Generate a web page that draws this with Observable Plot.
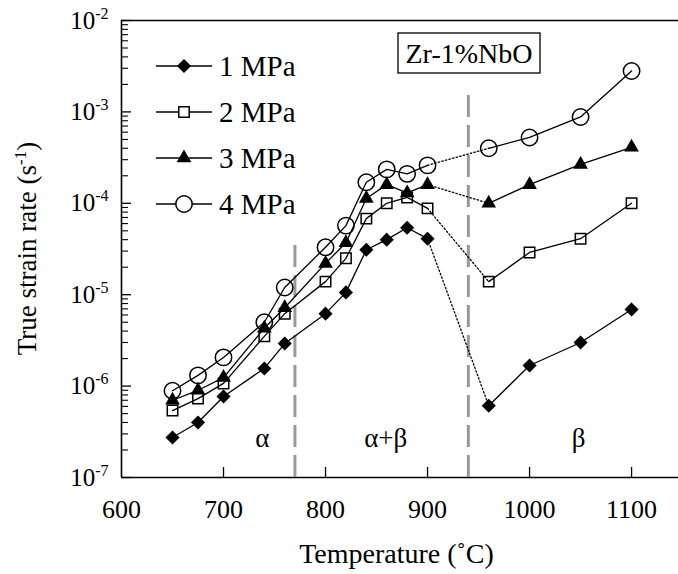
<!DOCTYPE html>
<html>
<head>
<meta charset="utf-8">
<script src="https://cdn.jsdelivr.net/npm/d3@7"></script>
<script src="https://cdn.jsdelivr.net/npm/@observablehq/plot@0.6"></script>
<style>
  html, body { margin: 0; padding: 0; background: #fff; }
  #chart { width: 678px; height: 574px; }
</style>
</head>
<body>
<div id="chart"></div>
<script>
// ---- data ----
const temps = [650, 675, 700, 740, 760, 800, 820, 840, 860, 880, 900, 960, 1000, 1050, 1100];
const rate1MPa = [2.74e-7, 4.0e-7, 7.7e-7, 1.56e-6, 2.92e-6, 6.2e-6, 1.06e-5, 3.1e-5, 4.0e-5, 5.4e-5, 4.1e-5, 6.1e-7, 1.68e-6, 3.0e-6, 6.9e-6];
const rate2MPa = [5.4e-7, 7.3e-7, 1.07e-6, 3.5e-6, 6.2e-6, 1.39e-5, 2.5e-5, 6.8e-5, 1.0e-4, 1.16e-4, 8.8e-5, 1.39e-5, 2.9e-5, 4.1e-5, 1.0e-4];
const rate3MPa = [7.0e-7, 9.0e-7, 1.24e-6, 4.3e-6, 7.2e-6, 2.2e-5, 3.7e-5, 1.13e-4, 1.6e-4, 1.3e-4, 1.6e-4, 1.0e-4, 1.6e-4, 2.66e-4, 4.1e-4];
const rate4MPa = [8.9e-7, 1.31e-6, 2.06e-6, 5.0e-6, 1.2e-5, 3.3e-5, 5.7e-5, 1.7e-4, 2.35e-4, 2.1e-4, 2.6e-4, 4.0e-4, 5.25e-4, 8.8e-4, 2.8e-3];
const seriesNames = ["1 MPa", "2 MPa", "3 MPa", "4 MPa"];
const seriesValues = [rate1MPa, rate2MPa, rate3MPa, rate4MPa];
const lastAlphaBetaTemp = 900;   // dotted connection between 900 and 960
const xTicks = [600, 700, 800, 900, 1000, 1100];
const yTicks = [1e-7, 1e-6, 1e-5, 1e-4, 1e-3, 1e-2];
const phaseBounds = [770, 940];
const phaseBoundTops = [4.0e-5, 1.6e-3];
const phaseLabels = ["α", "α+β", "β"];
const phaseLabelX = [738, 859, 1048];
const phaseLabelY = [2.67e-7, 2.67e-7, 2.67e-7];
const boxText = "Zr-1%NbO";
const xTitle = "Temperature (˚C)";
const yTitle = "True strain rate (s";
const yTitleSup = "-1";

// ---- styles ----
const symbols = ["diamond2", "square", "triangle", "circle"];
const fills = ["black", "none", "black", "none"];
const radii = [5.4, 5.9, 4.5, 8.2];
const W = 678, H = 574;
const mL = 121, mR = 0, mT = 20, mB = 97;
const xDomain = [600, 1146];
const pxPerX = (W - mL - mR) / (xDomain[1] - xDomain[0]);
const pxPerDecade = (H - mT - mB) / 5;
const FONT = "Liberation Serif, Times New Roman, serif";

// ---- build tables ----
const rows = [];
seriesNames.forEach((name, s) => {
  temps.forEach((t, i) => rows.push({series: name, s, t, v: seriesValues[s][i], seg: t <= lastAlphaBetaTemp ? 0 : 1}));
});
const dottedRows = rows.filter(d => d.t === lastAlphaBetaTemp || d.t === temps[temps.indexOf(lastAlphaBetaTemp) + 1]);

const minorY = [];
for (let k = 0; k < yTicks.length - 1; k++) for (let m = 2; m <= 9; m++) minorY.push(yTicks[k] * m);
const majorLen = 10, minorLen = 7;

const marks = [
  // frame
  Plot.ruleY([yTicks[yTicks.length - 1]], {stroke: "black", strokeWidth: 1.6}),
  Plot.ruleY([yTicks[0]], {stroke: "black", strokeWidth: 1.6}),
  Plot.ruleX([xDomain[0]], {stroke: "black", strokeWidth: 1.6}),
  // inward ticks
  Plot.ruleY(yTicks, {y: d => d, x1: xDomain[0], x2: xDomain[0] + majorLen / pxPerX, stroke: "black", strokeWidth: 1.3}),
  Plot.ruleY(minorY, {y: d => d, x1: xDomain[0], x2: xDomain[0] + minorLen / pxPerX, stroke: "black", strokeWidth: 1.1}),
  Plot.ruleX(xTicks.slice(1), {x: d => d, y1: yTicks[0], y2: yTicks[0] * Math.pow(10, majorLen / pxPerDecade), stroke: "black", strokeWidth: 1.3}),
  // phase boundaries
  Plot.ruleX(phaseBounds, {x: d => d, y1: yTicks[0], y2: (d, i) => phaseBoundTops[i], stroke: "#999", strokeWidth: 3, strokeDasharray: "22,8"}),
  Plot.text(phaseLabels, {x: (d, i) => phaseLabelX[i], y: (d, i) => phaseLabelY[i], text: d => d, fontSize: 27, fontFamily: FONT, fill: "black"}),
  // lines
  Plot.line(rows, {x: "t", y: "v", z: d => d.series + "-" + d.seg, stroke: "black", strokeWidth: 1.3}),
  Plot.line(dottedRows, {x: "t", y: "v", z: "series", stroke: "black", strokeWidth: 1.3, strokeDasharray: "1.5,2.2"}),
  // axes
  Plot.axisX({ticks: xTicks, tickSize: 0, tickPadding: 22, tickFormat: d => String(d), label: null, fontSize: 26, fontFamily: FONT}),
  Plot.axisY({ticks: yTicks, tickSize: 0, tickPadding: 13, tickFormat: d => "10^" + Math.round(Math.log10(d)), label: null, fontSize: 25, fontFamily: FONT})
];
seriesNames.forEach((name, s) => {
  marks.push(Plot.dot(rows.filter(d => d.s === s), {
    x: "t", y: "v", symbol: () => symbols[s], r: radii[s],
    fill: fills[s], stroke: "black", strokeWidth: 1.5
  }));
});

const chart = Plot.plot({
  width: W, height: H,
  marginLeft: mL, marginRight: mR, marginTop: mT, marginBottom: mB,
  style: {fontFamily: FONT, background: "white", color: "black", overflow: "visible"},
  x: {domain: xDomain, axis: null},
  y: {type: "log", domain: [yTicks[0], yTicks[yTicks.length - 1]], axis: null},
  symbol: {type: "identity"},
  marks
});
document.getElementById("chart").appendChild(chart);

// ---- post-processing: superscripts, titles, legend, box ----
const ns = "http://www.w3.org/2000/svg";
const svg = d3.select(chart);
chart.querySelectorAll('g[aria-label="y-axis tick label"] text').forEach(t => {
  const m = t.textContent.match(/^10\^(-?\d+)$/);
  if (!m) return;
  t.textContent = "10";
  const sup = document.createElementNS(ns, "tspan");
  sup.setAttribute("dy", "-10");
  sup.setAttribute("font-size", "16");
  sup.textContent = m[1];
  t.appendChild(sup);
});

// y title
const yt = svg.append("text")
  .attr("transform", `translate(36,${mT + (H - mT - mB) / 2}) rotate(-90)`)
  .attr("text-anchor", "middle")
  .attr("font-family", FONT).attr("font-size", 27).attr("fill", "black");
yt.append("tspan").text(yTitle);
yt.append("tspan").attr("dy", -10).attr("font-size", 17).text(yTitleSup);
yt.append("tspan").attr("dy", 10).text(")");

// x title
svg.append("text")
  .attr("x", mL + (W - mL - mR) / 2 - 3).attr("y", 563)
  .attr("text-anchor", "middle")
  .attr("font-family", FONT).attr("font-size", 28).attr("fill", "black")
  .text(xTitle);

// legend
const legendRowsY = [66, 112, 158, 204];
const legendLineX = [156, 212];
const d3Symbols = {diamond2: d3.symbolDiamond2, square: d3.symbolSquare, triangle: d3.symbolTriangle, circle: d3.symbolCircle};
const lg = svg.append("g");
seriesNames.forEach((name, s) => {
  const y = legendRowsY[s];
  lg.append("line").attr("x1", legendLineX[0]).attr("x2", legendLineX[1]).attr("y1", y).attr("y2", y)
    .attr("stroke", "black").attr("stroke-width", 1.5);
  lg.append("path")
    .attr("d", d3.symbol(d3Symbols[symbols[s]], Math.PI * radii[s] * radii[s])())
    .attr("transform", `translate(${(legendLineX[0] + legendLineX[1]) / 2},${y})`)
    .attr("fill", fills[s] === "none" ? "white" : fills[s]).attr("stroke", "black").attr("stroke-width", 1.5);
  lg.append("text").attr("x", 219).attr("y", y + 10)
    .attr("text-anchor", "start")
    .attr("font-family", FONT).attr("font-size", 29).attr("fill", "black").text(name);
});

// annotation box
const bx = svg.append("g");
bx.append("rect").attr("x", 398).attr("y", 33).attr("width", 142).attr("height", 40)
  .attr("fill", "white").attr("stroke", "black").attr("stroke-width", 1.3);
bx.append("text").attr("x", 469).attr("y", 63).attr("text-anchor", "middle")
  .attr("font-family", FONT).attr("font-size", 28).attr("fill", "black").text(boxText);
</script>
</body>
</html>
